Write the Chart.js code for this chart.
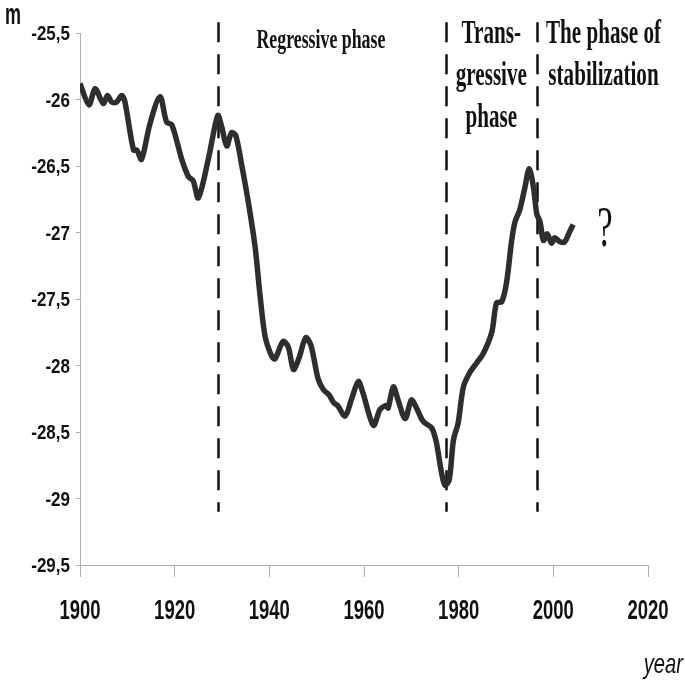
<!DOCTYPE html>
<html><head><meta charset="utf-8">
<script src="https://cdn.jsdelivr.net/npm/chart.js@4/dist/chart.umd.min.js"></script>
<style>html,body{margin:0;padding:0;background:#fff;} #wrap{width:685px;height:685px;}</style>
</head><body><div id="wrap"><canvas id="c" width="685" height="685"></canvas></div>
<script>
// ---- data ----
const years = [1900,1901.9,1903.2,1904.9,1905.8,1906.7,1907.7,1908.8,1909.5,1911.3,1912,1913,1914.8,1916.9,1918.3,1919.4,1921.5,1922.9,1923.9,1925,1927.1,1929.1,1929.9,1931,1932,1932.9,1934.2,1935.6,1937,1938,1939.1,1940.5,1941.2,1942.9,1944,1945.1,1946.3,1947.7,1948.8,1950.3,1951.4,1952.6,1953.6,1954.4,1956,1957.4,1958.8,1959.8,1962,1963.4,1964.8,1965.1,1966.2,1967.2,1968.7,1970,1971.1,1972.5,1974.3,1975.3,1976.4,1977.1,1978,1978.9,1979.9,1981,1982.4,1983.8,1985.2,1987,1988,1989.1,1990.1,1991.2,1991.9,1992.9,1994,1994.9,1995.8,1996.5,1997.2,1997.9,1998.7,1999.6,2000.3,2001.4,2002.4,2003.5,2004.2];
const levels = [-25.88,-26.04,-25.92,-26.03,-25.97,-26.02,-26.02,-25.97,-26.02,-26.38,-26.38,-26.45,-26.18,-25.98,-26.17,-26.19,-26.45,-26.58,-26.61,-26.74,-26.45,-26.12,-26.2,-26.35,-26.25,-26.27,-26.5,-26.78,-27.11,-27.46,-27.78,-27.93,-27.95,-27.82,-27.86,-28.03,-27.94,-27.79,-27.85,-28.1,-28.18,-28.22,-28.28,-28.3,-28.38,-28.25,-28.12,-28.21,-28.45,-28.33,-28.3,-28.32,-28.16,-28.26,-28.4,-28.26,-28.32,-28.42,-28.47,-28.58,-28.81,-28.9,-28.86,-28.56,-28.43,-28.16,-28.05,-27.98,-27.91,-27.75,-27.53,-27.52,-27.38,-27.06,-26.92,-26.83,-26.66,-26.52,-26.66,-26.86,-26.92,-27.06,-27.01,-27.08,-27.04,-27.07,-27.07,-26.99,-26.94];
const xTicks = [1900,1920,1940,1960,1980,2000,2020];
const yTicks = [-25.5,-26,-26.5,-27,-27.5,-28,-28.5,-29,-29.5];
const phaseBounds = [1929.2,1977.3,1996.6];
const phaseLabels = [["Regressive phase"],["Trans-","gressive","phase"],["The phase of","stabilization"]];
const yUnit = "m";
const xUnit = "year";
const futureMark = "?";

const sans = "'Liberation Sans',Arial,sans-serif";
const fmtY = v => String(v).replace('.', ',');
const fmtX = v => String(v);

const overlay = {
  id: 'overlay',
  beforeDatasetsDraw(chart) {
    const {ctx, scales: {x, y}} = chart;
    ctx.save();
    ctx.strokeStyle = '#111';
    ctx.lineWidth = 2.5;
    ctx.setLineDash([20, 12]);
    phaseBounds.forEach(b => {
      const px = Math.round(x.getPixelForValue(b)) + 0.5;
      ctx.beginPath();
      ctx.moveTo(px, y.getPixelForValue(-25.42));
      ctx.lineTo(px, y.getPixelForValue(-29.1));
      ctx.stroke();
    });
    ctx.restore();
  },
  afterDraw(chart) {
    const {ctx, scales: {x, y}} = chart;
    const txt = (s, cx, by, font, sx, align, base) => {
      ctx.save();
      ctx.translate(cx, by);
      ctx.scale(sx, 1);
      ctx.font = font;
      ctx.fillStyle = '#111';
      ctx.textAlign = align || 'center';
      ctx.textBaseline = base || 'alphabetic';
      ctx.fillText(s, 0, 0);
      ctx.restore();
    };
    // tick labels, placed by the library's scales
    y.ticks.forEach(t => txt(fmtY(t.value), 70, y.getPixelForValue(t.value) + 7, `bold 20px ${sans}`, 0.85, 'right'));
    x.ticks.forEach(t => txt(fmtX(t.value), x.getPixelForValue(t.value), 619, `bold 28px ${sans}`, 0.66, 'center'));
    const serifB = (n) => `bold ${n}px 'Liberation Serif','Times New Roman',serif`;
    // phase labels
    txt(phaseLabels[0][0], x.getPixelForValue(1950.9), 48, serifB(27), 0.66);
    const c2 = x.getPixelForValue(1986.9);
    phaseLabels[1].forEach((s, i) => txt(s, c2, 43 + i * 42, serifB(33), 0.64));
    const c3 = x.getPixelForValue(2010.6);
    phaseLabels[2].forEach((s, i) => txt(s, c3, 43 + i * 42, serifB(33), 0.64));
    // question mark
    txt(futureMark, x.getPixelForValue(2010.9), y.getPixelForValue(-27.1), "58px 'Liberation Serif','Times New Roman',serif", 0.6);
    // axis units
    txt(yUnit, 5, 24, `bold 29px ${sans}`, 0.62, 'left');
    txt(xUnit, 683, 673, `italic 28px ${sans}`, 0.72, 'right');
  }
};

new Chart(document.getElementById('c'), {
  type: 'line',
  data: {
    datasets: [{
      data: years.map((yr, i) => ({x: yr, y: levels[i]})),
      borderColor: '#2e2e2e',
      borderWidth: 5.5,
      pointRadius: 0,
      tension: 0.3,
      fill: false
    }]
  },
  options: {
    responsive: false,
    animation: false,
    devicePixelRatio: 1,
    layout: {padding: {left: 0, top: 33, right: 37, bottom: 0}},
    plugins: {legend: {display: false}, tooltip: {enabled: false}},
    scales: {
      x: {
        type: 'linear',
        min: 1900, max: 2020,
        afterBuildTicks: s => { s.ticks = xTicks.map(v => ({value: v})); },
        afterFit: s => { s.height = 120; },
        grid: {display: true, drawOnChartArea: false, tickLength: 12, color: '#b0b0b0', lineWidth: 1},
        border: {display: true, color: '#b0b0b0', width: 1},
        ticks: {display: false, callback: fmtX}
      },
      y: {
        type: 'linear',
        min: -29.5, max: -25.5,
        afterBuildTicks: s => { s.ticks = yTicks.map(v => ({value: v})); },
        afterFit: s => { s.width = 80; },
        grid: {display: true, drawOnChartArea: false, tickLength: 4, color: '#b0b0b0', lineWidth: 1},
        border: {display: true, color: '#b0b0b0', width: 1},
        ticks: {display: false, callback: fmtY}
      }
    }
  },
  plugins: [overlay]
});
</script>
</body></html>
